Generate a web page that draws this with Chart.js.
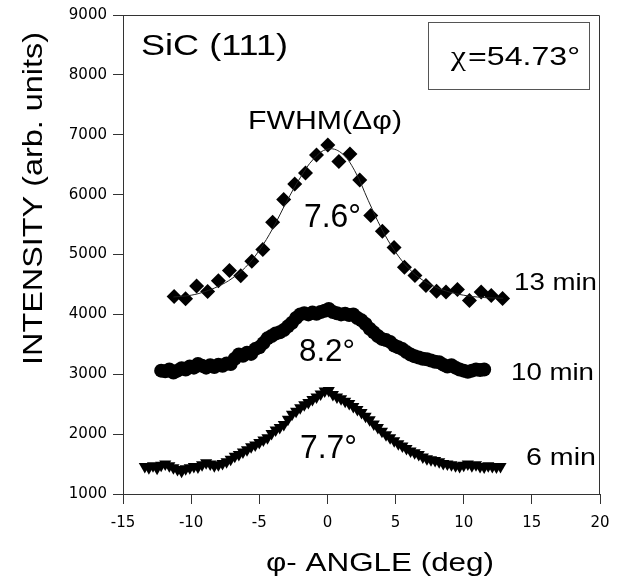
<!DOCTYPE html>
<html>
<head>
<meta charset="utf-8">
<script src="https://cdn.jsdelivr.net/npm/chart.js@4.4.1/dist/chart.umd.min.js"></script>
<style>
  body { margin: 0; background: #fff; }
  #plot { display: block; }
</style>
</head>
<body>
<canvas id="plot" width="620" height="576"></canvas>
<script>
// phi scans of the SiC (111) reflection after three growth times

// 13 min scan (diamonds)
const phi13 = [-11.25, -10.41, -9.60, -8.79, -8.00, -7.19, -6.36, -5.55, -4.74, -4.02, -3.21,
  -2.40, -1.61, -0.80, 0.03, 0.84, 1.65, 2.37, 3.18, 4.03, 4.89, 5.65, 6.42, 7.23, 8.01,
  8.70, 9.54, 10.42, 11.28, 12.02, 12.85];
const int13 = [4300, 4262, 4472, 4383, 4562, 4733, 4645, 4888, 5083, 5538, 5917,
  6178, 6362, 6662, 6828, 6555, 6678, 6245, 5650, 5388, 5117, 4788, 4650, 4483, 4388,
  4372, 4417, 4233, 4372, 4317, 4267];

// fitted curve through the 13 min scan
const phiFit = [-11.3, -10, -9, -8, -7, -6, -5, -4, -3, -2, -1, 0, 1, 2, 3, 4, 5, 6, 7, 8, 9, 10, 11, 12, 12.9];
const intFit = [4290, 4320, 4380, 4470, 4600, 4790, 5070, 5440, 5880, 6280, 6600, 6760, 6700,
  6400, 5900, 5420, 5040, 4760, 4570, 4450, 4370, 4320, 4290, 4275, 4270];

// 10 min scan (circles)
const phi10 = [-12.2, -11.9, -11.6, -11.3, -11.0, -10.7, -10.4, -10.1, -9.8, -9.5, -9.2, -8.9,
  -8.6, -8.3, -8.0, -7.7, -7.4, -7.1, -6.8, -6.5, -6.2, -5.9, -5.6, -5.3, -5.0, -4.7, -4.4,
  -4.1, -3.8, -3.5, -3.2, -2.9, -2.6, -2.3, -2.0, -1.7, -1.4, -1.1, -0.8, -0.5, -0.2, 0.1,
  0.4, 0.7, 1.0, 1.3, 1.6, 1.9, 2.2, 2.5, 2.8, 3.1, 3.4, 3.7, 4.0, 4.3, 4.6, 4.9, 5.2, 5.5,
  5.8, 6.1, 6.4, 6.7, 7.0, 7.3, 7.6, 7.9, 8.2, 8.5, 8.8, 9.1, 9.4, 9.7, 10.0, 10.3, 10.6,
  10.9, 11.2, 11.5];
const int10 = [3060, 3050, 3080, 3030, 3060, 3100, 3080, 3130, 3110, 3170, 3140, 3110,
  3150, 3120, 3160, 3140, 3180, 3170, 3260, 3330, 3310, 3360, 3340, 3420, 3450, 3520, 3600,
  3640, 3680, 3700, 3740, 3800, 3860, 3940, 4000, 4020, 4000, 4030, 4010, 4040, 4060, 4090,
  4040, 4020, 4000, 4010, 3990, 4000, 3940, 3900, 3840, 3760, 3700, 3640, 3590, 3570, 3540,
  3480, 3450, 3420, 3370, 3330, 3300, 3280, 3260, 3250, 3230, 3210, 3200, 3160, 3130, 3150,
  3110, 3080, 3060, 3040, 3060, 3080, 3070, 3080];

// 6 min scan (triangles)
const phi6 = [-13.4, -13.1, -12.8, -12.5, -12.2, -11.9, -11.6, -11.3, -11.0, -10.7, -10.4,
  -10.1, -9.8, -9.5, -9.2, -8.9, -8.6, -8.3, -8.0, -7.7, -7.4, -7.1, -6.8, -6.5, -6.2, -5.9,
  -5.6, -5.3, -5.0, -4.7, -4.4, -4.1, -3.8, -3.5, -3.2, -2.9, -2.6, -2.3, -2.0, -1.7, -1.4,
  -1.1, -0.8, -0.5, -0.2, 0.1, 0.4, 0.7, 1.0, 1.3, 1.6, 1.9, 2.2, 2.5, 2.8, 3.1, 3.4, 3.7,
  4.0, 4.3, 4.6, 4.9, 5.2, 5.5, 5.8, 6.1, 6.4, 6.7, 7.0, 7.3, 7.6, 7.9, 8.2, 8.5, 8.8, 9.1,
  9.4, 9.7, 10.0, 10.3, 10.6, 10.9, 11.2, 11.5, 11.8, 12.1, 12.4, 12.7];
const int6 = [1460, 1440, 1470, 1430, 1480, 1500, 1470, 1440, 1410, 1380, 1420,
  1440, 1460, 1450, 1490, 1520, 1500, 1470, 1490, 1510, 1540, 1580, 1630, 1660, 1700, 1740,
  1790, 1820, 1860, 1900, 1940, 2010, 2070, 2110, 2160, 2250, 2330, 2380, 2440, 2490, 2530,
  2580, 2620, 2670, 2720, 2730, 2660, 2620, 2590, 2550, 2510, 2460, 2410, 2360, 2300, 2240,
  2170, 2110, 2050, 1990, 1940, 1890, 1840, 1800, 1760, 1720, 1690, 1660, 1620, 1590, 1570,
  1560, 1540, 1510, 1500, 1490, 1470, 1460, 1480, 1500, 1470, 1490, 1460, 1450, 1470, 1460,
  1450, 1460];

const xTicks = [-15, -10, -5, 0, 5, 10, 15, 20];
const yTicks = [1000, 2000, 3000, 4000, 5000, 6000, 7000, 8000, 9000];

const toPoints = (xs, ys) => xs.map((x, i) => ({ x: x, y: ys[i] }));

// text drawn stretched to a given width (Arial-like face, wide set)
function fitText(ctx, txt, x, y, size, width, family) {
  ctx.font = size + 'px ' + (family || '"Liberation Sans", Arial, sans-serif');
  const w = ctx.measureText(txt).width;
  const sx = width ? width / w : 1;
  ctx.save();
  ctx.translate(x, y);
  ctx.scale(sx, 1);
  ctx.textAlign = 'left';
  ctx.textBaseline = 'alphabetic';
  ctx.fillText(txt, 0, 0);
  ctx.restore();
}

const decorations = {
  id: 'decorations',
  afterDraw(chart) {
    const ctx = chart.ctx;
    const a = chart.chartArea;
    ctx.save();
    // frame on top and right
    ctx.strokeStyle = '#333';
    ctx.lineWidth = 1;
    ctx.beginPath();
    ctx.moveTo(a.left, a.top + 0.5);
    ctx.lineTo(a.right - 0.5, a.top + 0.5);
    ctx.lineTo(a.right - 0.5, a.bottom);
    ctx.stroke();

    // chi box
    ctx.strokeStyle = '#555';
    ctx.strokeRect(428.5, 22.5, 161, 67);

    ctx.fillStyle = '#000';
    fitText(ctx, 'SiC (111)', 141, 55, 30, 147);
    fitText(ctx, 'χ', 451, 65, 27, 15, '"Liberation Serif", serif');
    fitText(ctx, '=54.73°', 468, 65, 25.5, 112);
    fitText(ctx, 'FWHM(Δφ)', 248, 129, 26, 154);
    fitText(ctx, '7.6°', 304, 226.5, 33, 57);
    fitText(ctx, '8.2°', 299, 360.5, 31.5, 56);
    fitText(ctx, '7.7°', 300, 458, 32.5, 57);
    fitText(ctx, '13 min', 514, 290, 24, 83);
    fitText(ctx, '10 min', 511, 380, 24, 83);
    fitText(ctx, '6 min', 526, 465, 23, 70);

    // axis titles
    fitText(ctx, 'φ- ANGLE (deg)', 266, 571, 25.5, 228);
    ctx.save();
    ctx.translate(42, 365);
    ctx.rotate(-Math.PI / 2);
    fitText(ctx, 'INTENSITY (arb. units)', 0, 0, 28.5, 333);
    ctx.restore();
    ctx.restore();
  }
};

new Chart(document.getElementById('plot'), {
  type: 'scatter',
  data: {
    datasets: [
      {
        label: 'fit',
        type: 'line',
        data: toPoints(phiFit, intFit),
        borderColor: '#222',
        borderWidth: 1,
        pointRadius: 0,
        tension: 0.4,
        fill: false
      },
      {
        label: '13 min',
        data: toPoints(phi13, int13),
        pointStyle: 'rectRot',
        pointRadius: 7.5,
        backgroundColor: '#000',
        borderColor: '#000',
        borderWidth: 0
      },
      {
        label: '10 min',
        data: toPoints(phi10, int10),
        pointStyle: 'circle',
        pointRadius: 7,
        backgroundColor: '#000',
        borderColor: '#000',
        borderWidth: 0
      },
      {
        label: '6 min',
        data: toPoints(phi6, int6),
        pointStyle: 'triangle',
        rotation: 180,
        pointRadius: 7,
        backgroundColor: '#000',
        borderColor: '#000',
        borderWidth: 0
      }
    ]
  },
  options: {
    responsive: false,
    animation: false,
    events: [],
    layout: { padding: { top: 14, right: 20, left: 0, bottom: 0 } },
    plugins: {
      legend: { display: false },
      tooltip: { enabled: false }
    },
    scales: {
      x: {
        type: 'linear',
        min: -15,
        max: 20,
        afterBuildTicks: (scale) => { scale.ticks = xTicks.map(v => ({ value: v })); },
        afterFit: (scale) => { scale.height = 82; },
        ticks: {
          color: '#000',
          padding: 10,
          font: { family: '"DejaVu Sans"', size: 15 }
        },
        grid: { drawOnChartArea: false, tickLength: 10, color: '#333' },
        border: { color: '#333', width: 1 }
      },
      y: {
        type: 'linear',
        min: 1000,
        max: 9000,
        afterBuildTicks: (scale) => { scale.ticks = yTicks.map(v => ({ value: v })); },
        afterFit: (scale) => { scale.width = 123; },
        ticks: {
          color: '#000',
          padding: 6,
          callback: (v) => String(v),
          font: { family: '"DejaVu Sans"', size: 15 }
        },
        grid: { drawOnChartArea: false, tickLength: 10, color: '#333' },
        border: { color: '#333', width: 1 }
      }
    }
  },
  plugins: [decorations]
});
</script>
</body>
</html>
